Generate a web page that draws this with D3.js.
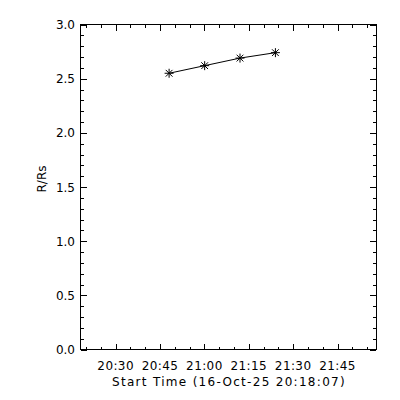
<!DOCTYPE html>
<html><head><meta charset="utf-8">
<script src="https://cdn.jsdelivr.net/npm/d3@7"></script>
<style>body{margin:0;background:#fff}svg{display:block}text{font-family:"DejaVu Sans",sans-serif;fill:#000}</style>
</head><body><svg id="c" width="400" height="400"></svg>
<script>
const times = ["2025-10-16T20:48:04Z","2025-10-16T21:00:05Z","2025-10-16T21:12:02Z","2025-10-16T21:24:00Z"];
const heights = [2.55, 2.62, 2.69, 2.74];
const xDomain = ["2025-10-16T20:18:07Z","2025-10-16T21:58:00Z"];
const xTickLabels = ["20:30","20:45","21:00","21:15","21:30","21:45"];
const yTickLabels = ["0.0","0.5","1.0","1.5","2.0","2.5","3.0"];
const xTitle = "Start Time (16-Oct-25 20:18:07)";
const yTitle = "R/Rs";

const L=80.5,R=376,T=24.5,B=349.5;
const svg=d3.select("#c");
const x=d3.scaleUtc().domain(xDomain.map(d=>new Date(d))).range([L,R]);
const y=d3.scaleLinear().domain([0,3]).range([B,T]);
const g=svg.append("g").attr("stroke","#000").attr("stroke-width",1).attr("fill","none").attr("shape-rendering","crispEdges");
g.append("rect").attr("x",L).attr("y",T).attr("width",R-L).attr("height",B-T);

// x ticks
const minorX=d3.utcMinute.every(5).range(x.domain()[0],x.domain()[1]);
minorX.forEach(t=>{
  const major=t.getUTCMinutes()%15===0;
  const len=major?6:3; const px=Math.round(x(t))+0.5;
  g.append("line").attr("x1",px).attr("x2",px).attr("y1",B).attr("y2",B-len);
  g.append("line").attr("x1",px).attr("x2",px).attr("y1",T).attr("y2",T+len);
});
const fmt=d3.utcFormat("%H:%M");
minorX.filter(t=>xTickLabels.includes(fmt(t))).forEach(t=>{
  svg.append("text").attr("x",x(t)).attr("y",370).attr("text-anchor","middle").attr("font-size",12).attr("letter-spacing",0.4).text(fmt(t));
});
// y ticks
d3.range(0,31).forEach(i=>{
  const v=i/10; const major=i%5===0; const len=major?6:3; const py=Math.round(y(v))+0.5;
  g.append("line").attr("x1",L).attr("x2",L+len).attr("y1",py).attr("y2",py);
  g.append("line").attr("x1",R).attr("x2",R-len).attr("y1",py).attr("y2",py);
});
yTickLabels.forEach(s=>{
  svg.append("text").attr("x",75).attr("y",y(+s)+4.5).attr("text-anchor","end").attr("font-size",12).text(s);
});
svg.append("text").attr("x",229).attr("y",386).attr("text-anchor","middle").attr("font-size",12).attr("letter-spacing",1.3).text(xTitle);
svg.append("text").attr("transform","translate(46,179) rotate(-90)").attr("text-anchor","middle").attr("font-size",12).text(yTitle);

// data
const data=times.map((t,i)=>({t:new Date(t),v:heights[i]}));
svg.append("path").datum(data).attr("fill","none").attr("stroke","#000").attr("stroke-width",1)
  .attr("d",d3.line().x(d=>x(d.t)).y(d=>y(d.v)));
const r=4.5;
data.forEach(d=>{
  const cx=x(d.t), cy=y(d.v);
  svg.append("path").attr("stroke","#000").attr("stroke-width",1).attr("fill","none")
    .attr("d",`M${cx-r},${cy}H${cx+r}M${cx},${cy-r}V${cy+r}M${cx-r*0.75},${cy-r*0.75}L${cx+r*0.75},${cy+r*0.75}M${cx-r*0.75},${cy+r*0.75}L${cx+r*0.75},${cy-r*0.75}`);
});
</script></body></html>
